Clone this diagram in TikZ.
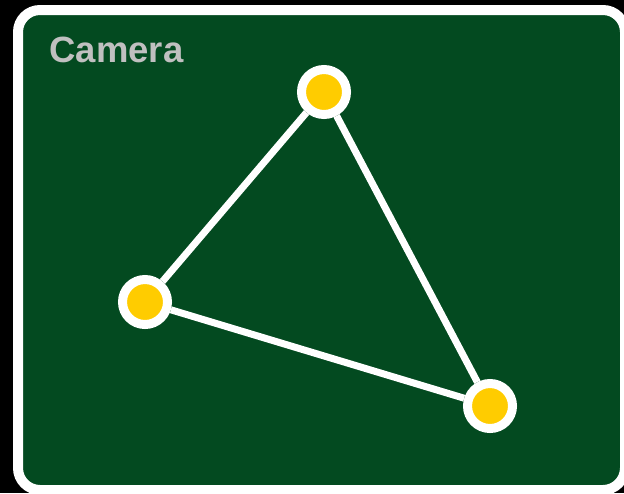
\documentclass[tikz,border=0pt]{standalone}
\usepackage{fontspec}
\setmainfont{Liberation Sans}
\usepackage{tikz}
\usetikzlibrary{backgrounds}

\definecolor{boardgreen}{RGB}{3,74,32}
\definecolor{pointyellow}{RGB}{255,204,0}
\definecolor{labelgray}{RGB}{192,192,192}

\begin{document}
\begin{tikzpicture}[x=1pt,y=-1pt,
		point/.style={circle,fill=pointyellow,draw=white,line width=9pt,inner sep=0pt,minimum size=45pt},
		edge/.style={draw=white,line width=7pt}]
			\useasboundingbox (0,0) rectangle (624,493);
			
			\node[anchor=base west,text=labelgray,font=\bfseries\fontsize{36.5}{40}\selectfont] (title) at (46,62) {Camera};
			
			\node[point] (top) at (324,92) {};
			\node[point] (left) at (145,302) {};
			\node[point] (right) at (490,406) {};
			
			\begin{scope}[on background layer]
			\fill[black] (0,0) rectangle (624,493);
			\draw[fill=boardgreen,draw=white,line width=10pt,rounded corners=22pt] (18,10) rectangle (625,490);
			\end{scope}
			
			\path[edge] (left) -- (top);
			\path[edge] (top) -- (right);
			\path[edge] (right) -- (left);
			\end{tikzpicture}
\end{document}
